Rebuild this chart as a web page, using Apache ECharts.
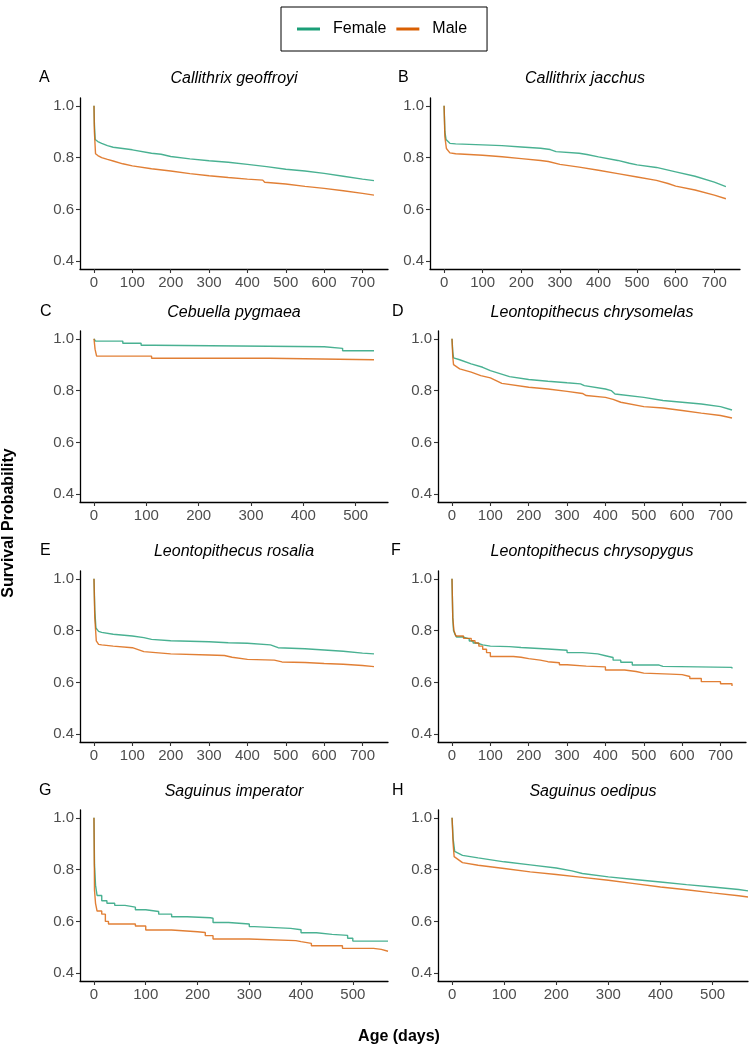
<!DOCTYPE html>
<html>
<head>
<meta charset="utf-8">
<script src="https://cdn.jsdelivr.net/npm/echarts@6/dist/echarts.min.js"></script>
<style>
html,body{margin:0;padding:0;background:#fff;}
#chart{width:751px;height:1050px;}
</style>
</head>
<body>
<div id="chart"></div>
<script>
// ---- Data (day, survival probability) ----
const panelLetters = ['A','B','C','D','E','F','G','H'];
const panelTitles = ['Callithrix geoffroyi','Callithrix jacchus','Cebuella pygmaea','Leontopithecus chrysomelas',
  'Leontopithecus rosalia','Leontopithecus chrysopygus','Saguinus imperator','Saguinus oedipus'];
const seriesNames = ['Female','Male'];
const yTicks = [0.4, 0.6, 0.8, 1.0];
const xTicksLong = [0,100,200,300,400,500,600,700];
const xTicksShort = [0,100,200,300,400,500];

const geoffroyiFemale = [[0,1],[1,0.93],[3,0.87],[10,0.862],[20,0.855],[35,0.846],[50,0.840],[75,0.835],[100,0.830],[150,0.817],[175,0.813],[200,0.804],[250,0.795],[300,0.788],[350,0.782],[400,0.774],[450,0.765],[500,0.755],[550,0.748],[600,0.739],[650,0.728],[700,0.717],[730,0.711]];
const geoffroyiMale = [[0,1],[1,0.9],[4,0.815],[10,0.808],[20,0.800],[35,0.793],[50,0.787],[75,0.776],[100,0.768],[150,0.757],[200,0.748],[250,0.738],[300,0.730],[350,0.723],[400,0.717],[440,0.713],[445,0.705],[500,0.698],[550,0.689],[600,0.681],[650,0.672],[700,0.662],[730,0.655]];

const jacchusFemale = [[0,1],[2,0.9],[5,0.87],[15,0.855],[30,0.853],[100,0.849],[150,0.846],[200,0.841],[250,0.836],[275,0.831],[290,0.823],[350,0.817],[370,0.812],[400,0.803],[450,0.789],[480,0.778],[500,0.772],[550,0.762],[600,0.745],[650,0.728],[700,0.705],[730,0.688]];
const jacchusMale = [[0,1],[2,0.88],[6,0.835],[15,0.818],[30,0.815],[100,0.809],[150,0.803],[200,0.796],[250,0.789],[270,0.785],[300,0.774],[350,0.763],[400,0.751],[450,0.738],[500,0.725],[550,0.712],[580,0.700],[600,0.690],[650,0.675],[700,0.655],[730,0.641]];

const pygmaeaFemale = [[0,1],[3,0.991],[55,0.983],[90,0.975],[115,0.969],[440,0.963],[475,0.954],[535,0.954]];
const pygmaeaMale = [[0,1],[2,0.96],[5,0.933],[110,0.925],[335,0.919],[535,0.919]];

const chrysomelasFemale = [[0,1],[2,0.95],[4,0.926],[20,0.919],[50,0.903],[80,0.89],[100,0.877],[150,0.854],[200,0.843],[250,0.836],[300,0.830],[335,0.826],[345,0.819],[400,0.806],[415,0.800],[425,0.787],[500,0.774],[550,0.762],[600,0.755],[650,0.748],[700,0.738],[730,0.725]];
const chrysomelasMale = [[0,1],[2,0.93],[4,0.90],[20,0.884],[50,0.871],[75,0.858],[100,0.849],[130,0.828],[200,0.813],[250,0.806],[300,0.797],[340,0.789],[350,0.781],[400,0.774],[420,0.766],[440,0.755],[500,0.738],[550,0.733],[600,0.723],[650,0.713],[700,0.704],[730,0.694]];

const rosaliaFemale = [[0,1],[2,0.88],[5,0.81],[12,0.797],[20,0.793],[50,0.786],[100,0.779],[130,0.773],[150,0.766],[200,0.761],[300,0.757],[350,0.753],[400,0.751],[460,0.745],[480,0.734],[550,0.730],[600,0.725],[650,0.720],[700,0.713],[730,0.710]];
const rosaliaMale = [[0,1],[2,0.85],[6,0.76],[12,0.747],[20,0.745],[50,0.740],[100,0.734],[130,0.719],[200,0.71],[300,0.706],[340,0.704],[360,0.697],[400,0.689],[470,0.686],[490,0.679],[550,0.677],[600,0.673],[650,0.670],[700,0.665],[730,0.661]];

const chrysopygusFemale = [[0,1],[2,0.85],[4,0.80],[8,0.785],[12,0.775],[30,0.768],[45,0.760],[55,0.752],[65,0.745],[80,0.740],[100,0.738],[150,0.735],[180,0.729],[250,0.724],[300,0.715],[340,0.71],[380,0.703],[400,0.696],[420,0.686],[440,0.678],[470,0.667],[540,0.662],[550,0.658],[730,0.654]];
const chrysopygusMale = [[0,1],[2,0.85],[5,0.80],[10,0.779],[30,0.770],[50,0.761],[60,0.752],[70,0.740],[80,0.728],[90,0.715],[100,0.70],[160,0.697],[180,0.692],[200,0.686],[230,0.680],[250,0.676],[280,0.668],[300,0.663],[350,0.660],[400,0.648],[450,0.642],[480,0.636],[500,0.632],[570,0.630],[600,0.623],[620,0.615],[650,0.603],[700,0.595],[730,0.586]];

const imperatorFemale = [[0,1],[1,0.82],[3,0.74],[6,0.70],[15,0.68],[25,0.67],[40,0.662],[60,0.655],[80,0.645],[100,0.638],[125,0.628],[150,0.618],[180,0.614],[225,0.612],[230,0.596],[260,0.590],[300,0.580],[310,0.573],[380,0.568],[400,0.556],[430,0.550],[460,0.546],[490,0.535],[500,0.524],[568,0.524]];
const imperatorMale = [[0,1],[1,0.72],[3,0.67],[6,0.64],[15,0.628],[22,0.60],[28,0.59],[80,0.582],[100,0.567],[150,0.56],[200,0.557],[215,0.545],[230,0.532],[300,0.526],[390,0.522],[400,0.515],[420,0.506],[480,0.496],[540,0.492],[555,0.485],[568,0.483]];

const oedipusFemale = [[0,1],[2,0.92],[5,0.87],[20,0.855],[50,0.845],[100,0.83],[150,0.818],[200,0.806],[230,0.795],[250,0.785],[300,0.772],[350,0.762],[400,0.752],[450,0.742],[500,0.733],[550,0.723],[568,0.718]];
const oedipusMale = [[0,1],[2,0.9],[4,0.85],[20,0.827],[50,0.817],[100,0.804],[150,0.791],[200,0.781],[250,0.77],[300,0.759],[350,0.746],[400,0.733],[450,0.722],[500,0.71],[550,0.699],[568,0.694]];

const femaleData = [geoffroyiFemale, jacchusFemale, pygmaeaFemale, chrysomelasFemale, rosaliaFemale, chrysopygusFemale, imperatorFemale, oedipusFemale];
const maleData = [geoffroyiMale, jacchusMale, pygmaeaMale, chrysomelasMale, rosaliaMale, chrysopygusMale, imperatorMale, oedipusMale];

// ---- Layout ----
const FONT = 'Liberation Sans, Arial, Helvetica, sans-serif';
const colF = '#1B9E77', colM = '#D95F02';
const layout = [
  {left:80, top:98, width:308, xr:[-36.5,766.5], ticks:xTicksLong, step:false, letterX:39},
  {left:430, top:98, width:310, xr:[-36.5,766.5], ticks:xTicksLong, step:false, letterX:398},
  {left:80, top:331, width:308, xr:[-26.75,561.75], ticks:xTicksShort, step:'end', letterX:40},
  {left:438, top:331, width:308, xr:[-36.5,766.5], ticks:xTicksLong, step:false, letterX:392},
  {left:80, top:571, width:308, xr:[-36.5,766.5], ticks:xTicksLong, step:false, letterX:40},
  {left:438, top:571, width:308, xr:[-36.5,766.5], ticks:xTicksLong, step:'end', letterX:391},
  {left:80, top:810, width:308, xr:[-27,568], ticks:xTicksShort, step:'end', letterX:39},
  {left:438, top:810, width:310, xr:[-27,568], ticks:xTicksShort, step:false, letterX:392}
];
const H = 171;
const titleY = [79, 79, 313, 313, 552, 552, 792, 792];

const grids = [], xAxes = [], yAxes = [], series = [], graphics = [];
layout.forEach((p, i) => {
  grids.push({left:p.left, top:p.top, width:p.width, height:H, containLabel:false});
  xAxes.push({
    type:'value', gridIndex:i, min:p.xr[0], max:p.xr[1],
    axisLine:{show:true, onZero:false, lineStyle:{color:'#000', width:1.3}},
    axisTick:{show:true, length:4, customValues:p.ticks, lineStyle:{color:'#333', width:1.1}},
    axisLabel:{customValues:p.ticks, color:'#4D4D4D', fontSize:15, fontFamily:FONT, margin:6},
    splitLine:{show:false}
  });
  yAxes.push({
    type:'value', gridIndex:i, min:0.37, max:1.03,
    axisLine:{show:true, onZero:false, lineStyle:{color:'#000', width:1.3}},
    axisTick:{show:true, length:4, customValues:yTicks, lineStyle:{color:'#333', width:1.1}},
    axisLabel:{customValues:yTicks, color:'#4D4D4D', fontSize:15, fontFamily:FONT, margin:6,
      formatter:v => Number(v).toFixed(1)},
    splitLine:{show:false}
  });
  [[femaleData[i], seriesNames[0], colF],[maleData[i], seriesNames[1], colM]].forEach(([d, n, c]) => {
    series.push({
      type:'line', name:n, xAxisIndex:i, yAxisIndex:i, data:d, step:p.step,
      symbol:'none', showSymbol:false, color:c, itemStyle:{color:c},
      lineStyle:{color:c, width:1.4, opacity:0.8}, silent:true, animation:false
    });
  });
  graphics.push({type:'text', left:p.letterX, top:titleY[i]-9,
    style:{text:panelLetters[i], font:'16px ' + FONT, fill:'#000'}});
  graphics.push({type:'text', x:p.left + p.width/2, y:titleY[i],
    style:{text:panelTitles[i], font:'italic 16px ' + FONT, fill:'#000', textAlign:'center', textVerticalAlign:'middle'}});
});
graphics.push({type:'text', x:399, y:1037,
  style:{text:'Age (days)', font:'bold 16px ' + FONT, fill:'#000', textAlign:'center', textVerticalAlign:'middle'}});
graphics.push({type:'text', x:9, y:523, rotation:Math.PI/2,
  style:{text:'Survival Probability', font:'bold 16px ' + FONT, fill:'#000', textAlign:'center', textVerticalAlign:'middle'}});

const chart = echarts.init(document.getElementById('chart'), null, {renderer:'canvas'});
chart.setOption({
  backgroundColor:'#fff',
  animation:false,
  legend:{
    data:seriesNames, left:281, top:7, orient:'horizontal',
    icon:'rect', itemWidth:23, itemHeight:3, itemGap:10,
    padding:[12,20,12,16], borderColor:'#000', borderWidth:1,
    textStyle:{fontSize:16, fontFamily:FONT, color:'#000', lineHeight:20, padding:[0,0,0,8]},
    selectedMode:false
  },
  grid:grids, xAxis:xAxes, yAxis:yAxes, series:series, graphic:graphics
});
</script>
</body>
</html>
